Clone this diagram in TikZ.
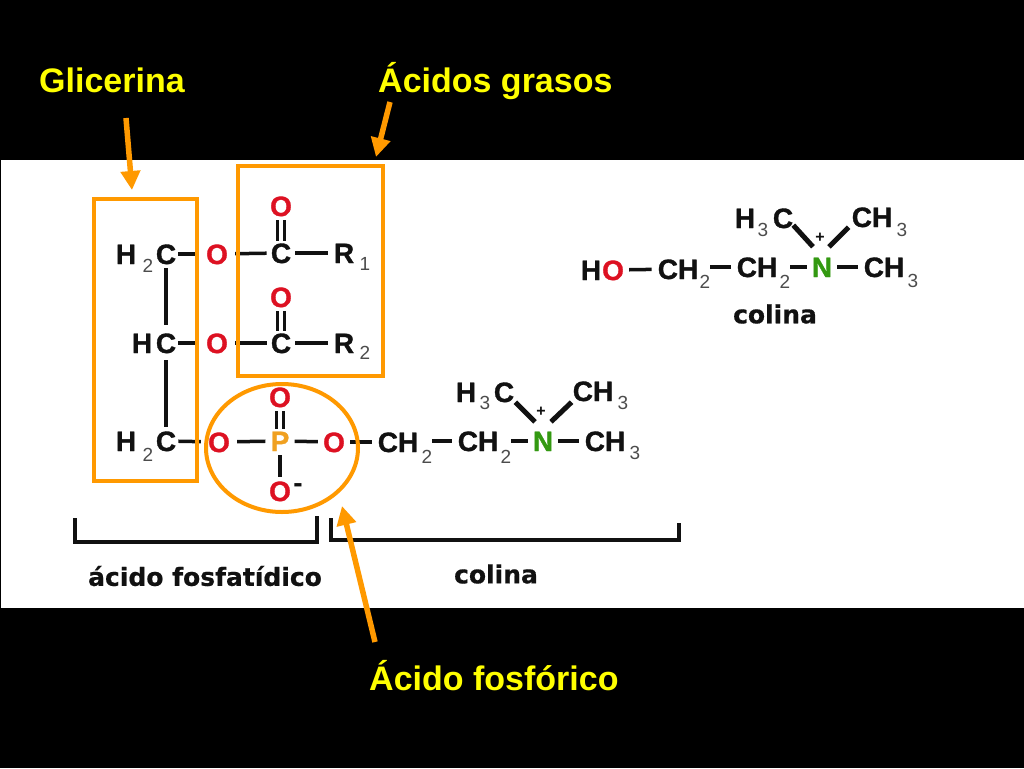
\documentclass[tikz,border=0pt]{standalone}
\usepackage{fontspec}
\setmainfont{Liberation Sans}
\newfontfamily\atomfont{Liberation Sans}[BoldFeatures={FakeBold=1.2}]
\newfontfamily\labelfont{DejaVu Sans}[BoldFeatures={FakeBold=0.6}]
\usetikzlibrary{arrows.meta, positioning, calc}
\definecolor{frameorange}{HTML}{FF9900}
\definecolor{titleyellow}{HTML}{FFFF00}
\definecolor{oxyred}{HTML}{DD1122}
\definecolor{phosorange}{HTML}{F0A020}
\definecolor{nitrogreen}{HTML}{339911}
\definecolor{inkblack}{HTML}{111111}
\tikzset{
    atom/.style={inner xsep=4pt, inner ysep=4pt, text=inkblack, font=\atomfont\fontsize{28}{28}\selectfont\bfseries, text height=20pt, text depth=0pt},
    carbon/.style={atom, inner xsep=2pt},
    group/.style={atom, inner xsep=6pt},
    oxy/.style={atom, inner xsep=7pt, text=oxyred},
    phos/.style={atom, inner xsep=5pt, text=phosorange},
    nitro/.style={atom, inner xsep=5pt, text=nitrogreen},
    subnum/.style={inner sep=0pt, text=inkblack!75, font=\fontsize{19}{19}\selectfont},
    charge/.style={inner sep=0pt, text=inkblack, font=\fontsize{16}{16}\selectfont\bfseries},
    minusmark/.style={inner sep=0pt, text=inkblack, font=\fontsize{28}{28}\selectfont\bfseries},
    bond/.style={draw=inkblack, line width=3.5pt},
    wedgebond/.style={draw=inkblack, line width=5pt},
    dblbond/.style={draw=inkblack, line width=3pt, double, double distance=4.5pt, shorten >=-2pt},
    bracket/.style={draw=inkblack, line width=3.5pt},
    frame/.style={draw=frameorange, line width=4pt},
    pointer/.style={draw=frameorange, line width=5.5pt, -{Triangle[width=19pt,length=19pt]}},
    title/.style={inner sep=0pt, text=titleyellow, font=\fontsize{34}{34}\selectfont\bfseries},
    caption/.style={inner sep=0pt, text=inkblack, font=\labelfont\fontsize{25}{25}\selectfont\bfseries},
}

\begin{document}
\begin{tikzpicture}[x=1pt, y=-1pt]
    \useasboundingbox (0,0) rectangle (1024,768);
    \fill[black] (0,0) rectangle (1024,768);
    \fill[white] (1,160) rectangle (1024,608);

    % glycerol column
    \node[carbon] (h1) at (126,254) {H};
    \node[subnum] (n1) at (148,266) {2};
    \node[carbon] (g1) at (166,254) {C};
    \node[carbon] (h2) at (142,343) {H};
    \node[carbon] (g2) at (166,343) {C};
    \node[carbon] (h3) at (126,441) {H};
    \node[subnum] (n3) at (148,455) {2};
    \node[carbon] (g3) at (166,441) {C};
    \draw[bond, shorten >=4pt] (g1) -- (g2);
    \draw[bond, shorten <=3pt] (g2) -- (g3);

    % fatty acids
    \node[oxy] (o1) at (217,254) {O};
    \node[atom] (c1) at (281,253) {C};
    \node[oxy] (t1) at (281,206) {O};
    \node[group] (r1) at (344,253) {R};
    \node[subnum] (m1) at (365,264) {1};
    \draw[bond] (g1) -- (o1);
    \draw[bond] (o1) -- (c1);
    \draw[bond] (c1) -- (r1);
    \draw[dblbond] (t1) -- (c1);

    \node[oxy] (o2) at (217,343) {O};
    \node[atom] (c2) at (281,343) {C};
    \node[oxy] (t2) at (281,297) {O};
    \node[group] (r2) at (344,343) {R};
    \node[subnum] (m2) at (365,353) {2};
    \draw[bond] (g2) -- (o2);
    \draw[bond] (o2) -- (c2);
    \draw[bond] (c2) -- (r2);
    \draw[dblbond] (t2) -- (c2);

    % phosphate
    \node[oxy] (o3) at (219,442) {O};
    \node[phos] (p) at (280,441) {P};
    \node[oxy] (t3) at (280,397) {O};
    \node[oxy, inner xsep=5pt] (o4) at (334,442) {O};
    \node[oxy] (o5) at (280,491) {O};
    \node[minusmark] (minus) at (298,488) {-};
    \draw[bond] (g3) -- (o3);
    \draw[bond] (o3) -- (p);
    \draw[bond] (p) -- (o4);
    \draw[bond] (p) -- (o5);
    \draw[dblbond] (t3) -- (p);

    % choline in the chain
    \node[group] (a1) at (398,442) {CH};
    \node[subnum] (s1) at (427,457) {2};
    \node[group] (a2) at (478,441) {CH};
    \node[subnum] (s2) at (506,457) {2};
    \node[nitro] (a3) at (543,441) {N};
    \node[group] (a4) at (605,441) {CH};
    \node[subnum] (s4) at (635,453) {3};
    \node[atom] (a5) at (466,392) {H};
    \node[subnum] (s5) at (485,403) {3};
    \node[atom] (a6) at (504,392) {C};
    \node[group] (a7) at (593,391) {CH};
    \node[subnum] (s7) at (623,403) {3};
    \node[charge] (plus) at (541,412) {+};
    \draw[bond] (o4) -- (a1);
    \draw[bond] (s1.east |- a2) -- (a2);
    \draw[bond] (s2.east |- a3) -- (a3);
    \draw[bond] (a3) -- (a4);
    \draw[wedgebond] ($(a6.south east)+(-3,-4)$) -- ($(a3.north)+(-8,-5)$);
    \draw[wedgebond] ($(a7.south west)+(5,-3)$) -- ($(a3.north)+(8,-5)$);

    % free choline
    \node[atom] (b0) at (591,270) {H};
    \node[oxy, inner xsep=5pt] (b1) at (613,270) {O};
    \node[group] (b2) at (678,269) {CH};
    \node[subnum] (u2) at (705,282) {2};
    \node[group] (b3) at (757,267) {CH};
    \node[subnum] (u3) at (785,282) {2};
    \node[nitro] (b4) at (822,267) {N};
    \node[group] (b5) at (884,267) {CH};
    \node[subnum] (u5) at (913,281) {3};
    \node[atom] (b6) at (745,218) {H};
    \node[subnum] (u6) at (763,230) {3};
    \node[atom] (b7) at (783,218) {C};
    \node[group] (b8) at (872,217) {CH};
    \node[subnum] (u8) at (902,230) {3};
    \node[charge] (plusb) at (820,238) {+};
    \draw[bond] (b1) -- (b2);
    \draw[bond] (u2.east |- b3) -- (b3);
    \draw[bond] (u3.east |- b4) -- (b4);
    \draw[bond] (b4) -- (b5);
    \draw[wedgebond] ($(b7.south east)+(-4,-7)$) -- ($(b4.north)+(-9,-6)$);
    \draw[wedgebond] ($(b8.south west)+(3,-4)$) -- ($(b4.north)+(7,-6)$);
    \node[caption] (capb) at (775,314) {colina};

    % brackets
    \draw[bracket] (75,518) |- (317,542) -- (317,516);
    \draw[bracket] (331,518) |- (679,540) -- (679,523);
    \node[caption] (capa) at (205,576) {ácido fosfatídico};
    \node[caption] (capc) at (496,574) {colina};

    % orange marks
    \draw[frame] (94,199) rectangle (197,481);
    \draw[frame] (238,166) rectangle (383,376);
    \draw[frame] (282,448) ellipse [x radius=76, y radius=64];

    \node[title, anchor=west] (tg) at (39,80) {Glicerina};
    \node[title, anchor=west] (ta) at (378,81) {Ácidos grasos};
    \node[title, anchor=west] (tf) at (369,676) {Ácido fosfórico};
    \coordinate (fg) at (126,118);
    \coordinate (ag) at (132,190);
    \coordinate (fa) at (390,102);
    \coordinate (aa) at (376,157);
    \coordinate (ff) at (375,642);
    \coordinate (af) at (342,506);
    \draw[pointer] (fg) -- (ag);
    \draw[pointer] (fa) -- (aa);
    \draw[pointer] (ff) -- (af);
\end{tikzpicture}
\end{document}
